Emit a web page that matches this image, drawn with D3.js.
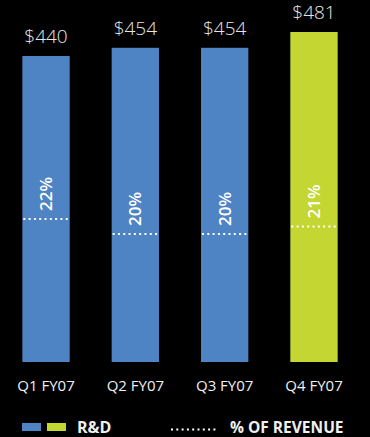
<!DOCTYPE html>
<html>
<head>
<meta charset="utf-8">
<script src="https://cdn.jsdelivr.net/npm/d3@7"></script>
<style>
  html, body { margin: 0; padding: 0; background: #000; }
  svg { display: block; }
</style>
</head>
<body>
<div class="chart"></div>
<script>
const quarters = ["Q1 FY07", "Q2 FY07", "Q3 FY07", "Q4 FY07"];
const rdSpend = [440, 454, 454, 481];
const pctRevenue = [22, 20, 20, 21];
const barColors = ["#4f84c4", "#4f84c4", "#4f84c4", "#c4d631"];

const width = 370, height = 437;

const svg = d3.select(".chart")
  .append("svg")
  .attr("width", width)
  .attr("height", height)
  .style("background", "#000");

const xScale = d3.scaleBand()
  .domain(quarters)
  .range([0, 360])
  .paddingInner(0.47)
  .paddingOuter(0.25);

// bars don't start from zero in the original art
const yScale = d3.scaleLinear()
  .domain([-83, 481])
  .range([362, 32]);

const pctScale = d3.scaleLinear()
  .domain([20, 22])
  .range([234, 219]);

const bars = svg.selectAll(".bar")
  .data(quarters)
  .enter()
  .append("g")
  .attr("class", "bar");

bars.append("rect")
  .attr("x", d => xScale(d))
  .attr("y", (d, i) => yScale(rdSpend[i]))
  .attr("width", xScale.bandwidth())
  .attr("height", (d, i) => yScale(-83) - yScale(rdSpend[i]))
  .attr("fill", (d, i) => barColors[i]);

bars.append("text")
  .attr("x", d => xScale(d) + xScale.bandwidth() / 2)
  .attr("y", (d, i) => yScale(rdSpend[i]) - 13)
  .attr("text-anchor", "middle")
  .attr("fill", "#e6e6e6")
  .style("font", "300 19px 'Open Sans', sans-serif")
  .text((d, i) => "$" + rdSpend[i]);

bars.append("line")
  .attr("x1", d => xScale(d) + 1)
  .attr("x2", d => xScale(d) + xScale.bandwidth())
  .attr("y1", (d, i) => pctScale(pctRevenue[i]))
  .attr("y2", (d, i) => pctScale(pctRevenue[i]))
  .attr("stroke", "#fff")
  .attr("stroke-width", 2)
  .attr("stroke-dasharray", "2 3.3");

bars.append("text")
  .attr("transform", (d, i) => {
    const cx = xScale(d) + xScale.bandwidth() / 2 + 6;
    const cy = pctScale(pctRevenue[i]) - 8;
    return `translate(${cx},${cy}) rotate(-90)`;
  })
  .attr("fill", "#fff")
  .style("font", "600 17px 'Open Sans', sans-serif")
  .text((d, i) => pctRevenue[i] + "%");

const xAxis = d3.axisBottom(xScale).tickSize(0).tickPadding(0);

svg.append("g")
  .attr("class", "axis x-axis")
  .attr("transform", "translate(0, 377)")
  .call(xAxis)
  .call(g => g.select(".domain").remove())
  .call(g => g.selectAll("text")
    .attr("fill", "#f0f0f0")
    .attr("dy", "0.95em")
    .style("font", "15px 'Open Sans', sans-serif"));

// legend
const legend = svg.append("g").attr("class", "legend");

legend.append("rect")
  .attr("x", 22).attr("y", 423).attr("width", 19).attr("height", 8)
  .attr("fill", barColors[0]);
legend.append("rect")
  .attr("x", 47).attr("y", 423).attr("width", 19).attr("height", 8)
  .attr("fill", barColors[3]);
legend.append("text")
  .attr("x", 77).attr("y", 433)
  .attr("fill", "#f0f0f0")
  .style("font", "bold 16px 'Open Sans', sans-serif")
  .text("R&D");

legend.append("line")
  .attr("x1", 171).attr("x2", 218)
  .attr("y1", 429.5).attr("y2", 429.5)
  .attr("stroke", "#fff")
  .attr("stroke-width", 2)
  .attr("stroke-dasharray", "2 3.3");
legend.append("text")
  .attr("x", 230).attr("y", 433)
  .attr("fill", "#f0f0f0")
  .style("font", "bold 15.5px 'Open Sans', sans-serif")
  .text("% OF REVENUE");
</script>
</body>
</html>
